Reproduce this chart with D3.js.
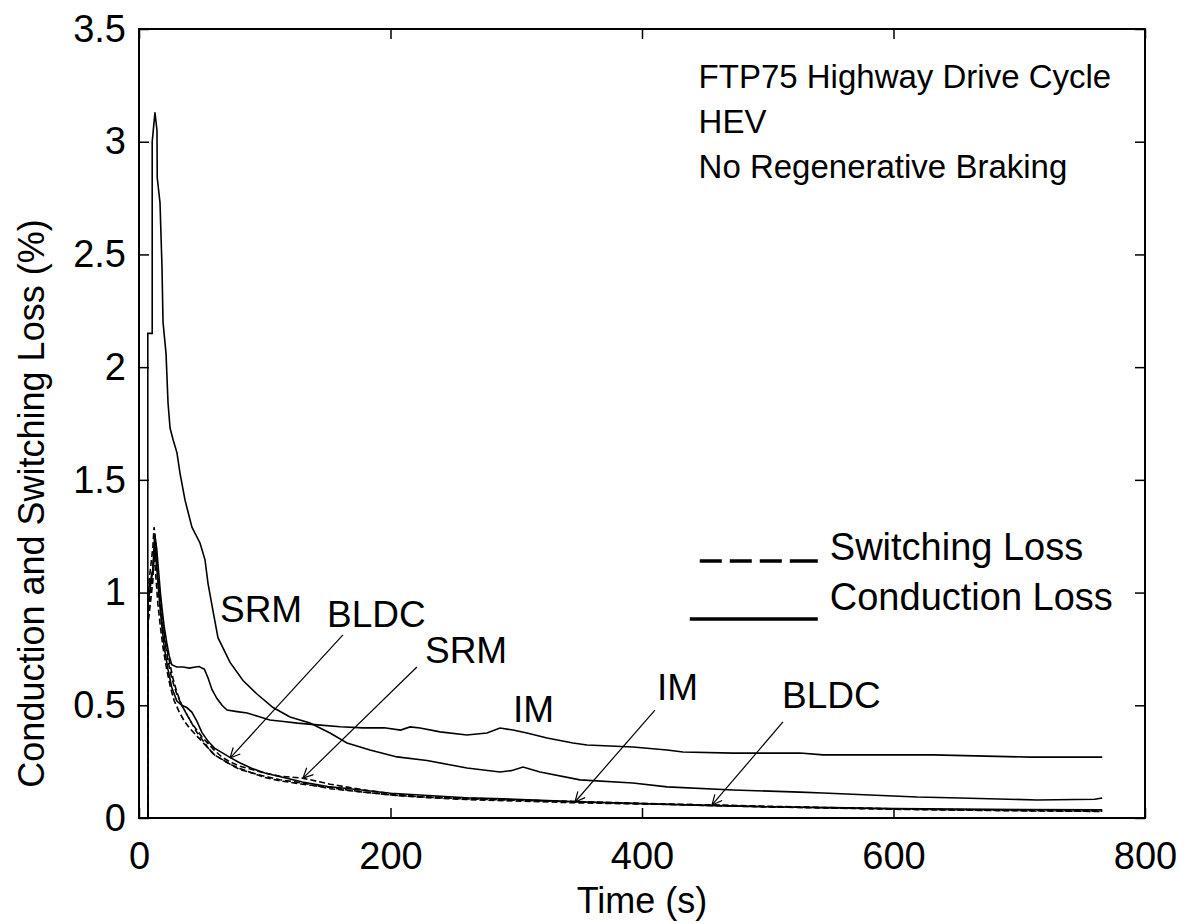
<!DOCTYPE html>
<html>
<head>
<meta charset="utf-8">
<script src="https://cdn.jsdelivr.net/npm/d3@7"></script>
<style>
  body { margin: 0; background: #fff; }
  svg text { font-family: "Liberation Sans", Arial, sans-serif; fill: #000; }
  .curve { fill: none; stroke: #000; stroke-width: 1.6; }
  .curve.switching { stroke-dasharray: 6,3; }
  .tick line { stroke: #000; stroke-width: 1.5; }
</style>
</head>
<body>
<svg id="chart" width="1188" height="924"></svg>
<script>
// losses over the FTP75 highway cycle (time in s, loss in %)
var srmCondT = [0, 7, 7, 10.5, 10.5, 12.7, 14.3, 14.5, 16.7, 18.3, 19.1, 21.5, 23.1, 24.7, 27, 30.2, 32.6, 36.6, 42.1, 48.5, 52.5, 54.9, 58.8, 62.8, 72.4, 82.7, 93.8, 106.6, 120.1, 136, 151.9, 165.4, 183.7, 205.2, 229, 260.8, 287.1, 296, 305.4, 318.9, 350.7, 392.8, 419.9, 472.4, 525.6, 543.9, 618.7, 652.9, 714.1, 760, 766];
var srmCondV = [0, 0, 2.15, 2.15, 3.0, 3.13, 3.05, 2.84, 2.73, 2.44, 2.2, 2.06, 1.84, 1.73, 1.68, 1.62, 1.53, 1.41, 1.29, 1.22, 1.145, 1.04, 0.92, 0.8, 0.69, 0.61, 0.55, 0.49, 0.448, 0.421, 0.377, 0.333, 0.302, 0.271, 0.255, 0.222, 0.204, 0.21, 0.226, 0.204, 0.169, 0.155, 0.138, 0.124, 0.115, 0.111, 0.093, 0.089, 0.080, 0.083, 0.089];

var imCondT = [0, 7, 7, 11, 12.5, 14, 15.5, 17, 18.5, 20, 22, 24, 26, 30, 35, 40, 45, 48, 50, 52, 55, 58, 62, 66, 70, 78, 86, 95, 104, 115, 126, 142, 160, 178, 195, 208, 215.5, 223.5, 239.4, 260.8, 276.7, 287.1, 297.4, 308.5, 324.5, 345.1, 356.3, 392.8, 419.9, 432.6, 472.4, 525.6, 543.9, 631.4, 708.5, 766];
var imCondV = [0, 0, 1.0, 1.1, 1.26, 1.2, 1.1, 1.0, 0.92, 0.85, 0.78, 0.72, 0.68, 0.67, 0.67, 0.665, 0.67, 0.672, 0.665, 0.66, 0.62, 0.57, 0.53, 0.5, 0.479, 0.472, 0.466, 0.45, 0.435, 0.428, 0.421, 0.413, 0.405, 0.40, 0.40, 0.39, 0.404, 0.399, 0.382, 0.368, 0.377, 0.399, 0.39, 0.377, 0.355, 0.333, 0.324, 0.315, 0.302, 0.293, 0.288, 0.288, 0.28, 0.28, 0.27, 0.27];

var bldcCondT = [0, 7, 7, 11, 12.5, 14, 16, 18, 20, 23, 26, 30, 34, 38, 42, 46, 50, 55, 60, 66, 72, 80, 90, 100, 115, 130, 150, 175, 200, 230, 260, 290, 320, 350, 400, 450, 500, 550, 600, 650, 700, 766];
var bldcCondV = [0, 0, 0.95, 1.1, 1.2, 1.12, 0.98, 0.86, 0.76, 0.66, 0.58, 0.52, 0.5, 0.49, 0.47, 0.43, 0.38, 0.34, 0.31, 0.29, 0.27, 0.245, 0.22, 0.2, 0.18, 0.16, 0.14, 0.125, 0.11, 0.1, 0.09, 0.085, 0.078, 0.072, 0.064, 0.056, 0.05, 0.046, 0.042, 0.04, 0.038, 0.036];

var srmSwT = [0, 7, 7, 11, 12, 13.5, 15, 17, 19, 21, 24, 27, 30, 34, 38, 42, 46, 50, 55, 60, 66, 72, 80, 90, 100, 112, 130, 152, 178, 205, 223, 260, 290, 320, 347, 380, 420, 456, 500, 550, 600, 650, 700, 766];
var srmSwV = [0, 0, 1.0, 1.2, 1.29, 1.2, 1.08, 0.96, 0.86, 0.78, 0.7, 0.62, 0.56, 0.5, 0.46, 0.42, 0.39, 0.36, 0.33, 0.3, 0.27, 0.25, 0.23, 0.215, 0.2, 0.185, 0.177, 0.15, 0.125, 0.105, 0.095, 0.088, 0.082, 0.077, 0.073, 0.068, 0.062, 0.057, 0.05, 0.045, 0.04, 0.036, 0.033, 0.03];

var imSwT = [0, 7, 7, 11, 12.5, 14, 16, 18, 20, 23, 26, 30, 34, 38, 42, 46, 50, 55, 60, 66, 72, 80, 90, 100, 112, 130, 152, 178, 205, 230, 260, 290, 320, 347, 380, 420, 456, 500, 550, 600, 650, 700, 766];
var imSwV = [0, 0, 0.9, 1.1, 1.22, 1.12, 0.98, 0.88, 0.8, 0.7, 0.62, 0.55, 0.5, 0.46, 0.42, 0.38, 0.35, 0.31, 0.28, 0.26, 0.24, 0.215, 0.2, 0.185, 0.17, 0.155, 0.13, 0.115, 0.1, 0.092, 0.085, 0.08, 0.076, 0.071, 0.066, 0.06, 0.055, 0.049, 0.044, 0.039, 0.035, 0.032, 0.029];

var bldcSwT = [0, 7, 7, 11, 12, 13, 15, 17, 19, 22, 25, 28, 32, 36, 40, 45, 50, 55, 60, 66, 72, 80, 90, 100, 112, 130, 152, 178, 205, 230, 260, 290, 320, 350, 400, 456, 500, 550, 600, 650, 700, 766];
var bldcSwV = [0, 0, 0.85, 1.05, 1.18, 1.1, 0.95, 0.85, 0.76, 0.66, 0.58, 0.52, 0.47, 0.43, 0.4, 0.37, 0.34, 0.31, 0.28, 0.26, 0.24, 0.22, 0.2, 0.18, 0.165, 0.15, 0.135, 0.115, 0.1, 0.09, 0.082, 0.077, 0.072, 0.067, 0.062, 0.058, 0.052, 0.046, 0.041, 0.037, 0.034, 0.031];

var xTicks = [0, 200, 400, 600, 800];
var yTicks = [0, 0.5, 1, 1.5, 2, 2.5, 3, 3.5];

var infoLines = ["FTP75 Highway Drive Cycle", "HEV", "No Regenerative Braking"];
var legendNames = ["Switching Loss", "Conduction Loss"];

// labels on the curves: text anchor (t, %) and optional arrow tip (t, %)
var labelText = ["SRM", "BLDC", "SRM", "IM", "IM", "BLDC"];
var labelAt = [[64.4, 0.87], [149.5, 0.847], [227.4, 0.688], [297.4, 0.426], [412, 0.524], [511.3, 0.488]];
var arrowFrom = [null, [162.2, 0.812], [221, 0.67], null, [410.3, 0.479], [512.1, 0.426]];
var arrowTo = [null, [72.4, 0.266], [130.4, 0.177], null, [346.7, 0.071], [455.7, 0.058]];

var svg = d3.select("#chart");
var margin = {top: 29, right: 43, bottom: 106, left: 139};
var width = +svg.attr("width") - margin.left - margin.right,
    height = +svg.attr("height") - margin.top - margin.bottom;

var x = d3.scaleLinear().domain([0, 800]).range([0, width]);
var y = d3.scaleLinear().domain([0, 3.5]).range([height, 0]);

var g = svg.append("g").attr("transform", "translate(" + margin.left + "," + margin.top + ")");

// axes, ticks pointing inward like matlab
var fmt = function(d) { return d3.format("")(d); };
g.append("g")
    .attr("transform", "translate(0," + height + ")")
    .call(d3.axisBottom(x).tickValues(xTicks).tickSize(-10).tickPadding(24).tickFormat(fmt))
    .call(function(a) { a.selectAll("text").attr("font-size", 38); });
g.append("g")
    .call(d3.axisTop(x).tickValues(xTicks).tickSize(-10).tickFormat(""));
g.append("g")
    .call(d3.axisLeft(y).tickValues(yTicks).tickSize(-10).tickPadding(13).tickFormat(fmt))
    .call(function(a) { a.selectAll("text").attr("font-size", 38); });
g.append("g")
    .attr("transform", "translate(" + width + ",0)")
    .call(d3.axisRight(y).tickValues(yTicks).tickSize(-10).tickFormat(""));
g.selectAll(".domain").remove();
g.selectAll("text").style("font-family", null).attr("font-family", null);

g.append("rect")
    .attr("width", width)
    .attr("height", height)
    .attr("fill", "none")
    .attr("stroke", "#000")
    .attr("stroke-width", 2);

// curves
var line = d3.line()
    .x(function(d) { return x(d[0]); })
    .y(function(d) { return y(d[1]); });

var series = [
  {t: srmCondT, v: srmCondV, type: "conduction"},
  {t: imCondT, v: imCondV, type: "conduction"},
  {t: bldcCondT, v: bldcCondV, type: "conduction"},
  {t: srmSwT, v: srmSwV, type: "switching"},
  {t: imSwT, v: imSwV, type: "switching"},
  {t: bldcSwT, v: bldcSwV, type: "switching"}
];

g.selectAll(".curve")
    .data(series)
  .enter().append("path")
    .attr("class", function(d) { return "curve " + d.type; })
    .attr("d", function(d) { return line(d.t.map(function(t, i) { return [t, d.v[i]]; })); });

// curve labels and arrows
labelText.forEach(function(txt, i) {
  g.append("text")
      .attr("x", x(labelAt[i][0]))
      .attr("y", y(labelAt[i][1]))
      .attr("font-size", 37)
      .text(txt);
  if (!arrowFrom[i]) return;
  var x1 = x(arrowFrom[i][0]), y1 = y(arrowFrom[i][1]),
      x2 = x(arrowTo[i][0]), y2 = y(arrowTo[i][1]);
  g.append("line")
      .attr("x1", x1).attr("y1", y1)
      .attr("x2", x2).attr("y2", y2)
      .attr("stroke", "#000").attr("stroke-width", 1.2);
  var ang = Math.atan2(y1 - y2, x1 - x2);
  [-0.45, 0.45].forEach(function(da) {
    g.append("line")
        .attr("x1", x2).attr("y1", y2)
        .attr("x2", x2 + 11 * Math.cos(ang + da))
        .attr("y2", y2 + 11 * Math.sin(ang + da))
        .attr("stroke", "#000").attr("stroke-width", 1.2);
  });
});

// info text top right
g.selectAll(".info")
    .data(infoLines)
  .enter().append("text")
    .attr("class", "info")
    .attr("x", x(445))
    .attr("y", function(d, i) { return 59 + i * 45; })
    .attr("font-size", 33)
    .text(function(d) { return d; });

// legend
var legend = g.append("g").attr("transform", "translate(" + x(438) + "," + y(1.14) + ")");
legend.append("line")
    .attr("x1", 10).attr("x2", 128).attr("y1", 0).attr("y2", 0)
    .attr("stroke", "#000").attr("stroke-width", 3.5)
    .attr("stroke-dasharray", "22,8,22,8,22,8,28,40");
legend.append("line")
    .attr("x1", 0).attr("x2", 128).attr("y1", 58).attr("y2", 58)
    .attr("stroke", "#000").attr("stroke-width", 3.5);
legend.selectAll("text")
    .data(legendNames)
  .enter().append("text")
    .attr("x", 140)
    .attr("y", function(d, i) { return -1 + i * 50; })
    .attr("font-size", 38)
    .text(function(d) { return d; });

// axis titles
svg.append("text")
    .attr("x", margin.left + width / 2)
    .attr("y", 913)
    .attr("text-anchor", "middle")
    .attr("font-size", 36)
    .text("Time (s)");

svg.append("text")
    .attr("transform", "translate(44," + (margin.top + height / 2 + 80) + ") rotate(-90)")
    .attr("text-anchor", "middle")
    .attr("font-size", 36)
    .text("Conduction and Switching Loss (%)");
</script>
</body>
</html>
